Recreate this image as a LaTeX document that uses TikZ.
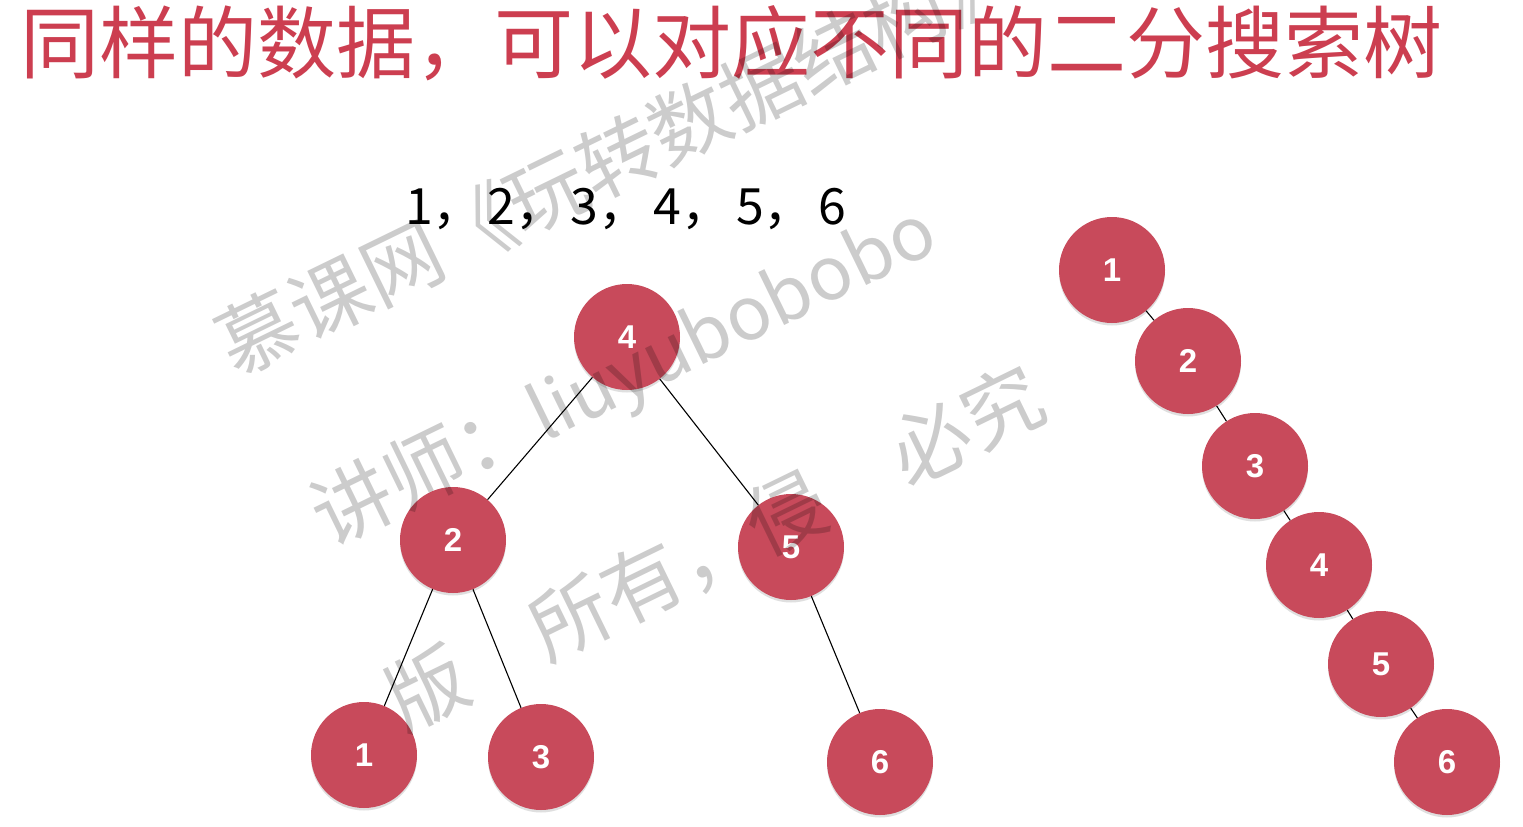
\documentclass[tikz,border=0pt]{standalone}
\usepackage{fontspec}
\setmainfont{Liberation Sans}
\newfontfamily\cjk{Noto Sans CJK SC}
\usetikzlibrary{shadows}
\definecolor{nodered}{RGB}{200,74,91}
\definecolor{titlered}{RGB}{204,62,80}
\begin{document}
\begin{tikzpicture}[x=1pt,y=-1pt,
  bst/.style={circle, fill=nodered, minimum size=106pt, inner sep=0pt, text=white,
    font=\fontsize{33}{33}\selectfont\bfseries,
    drop shadow={shadow xshift=0pt, shadow yshift=-2.5pt, opacity=0.25}},
  link/.style={draw=black, line width=1.1pt},
  wm/.style={text=black, text opacity=0.2, font=\cjk\fontsize{80}{80}\selectfont,
    rotate=26, anchor=west, inner sep=0pt}]
\useasboundingbox[fill=white] (0,0) rectangle (1523,827);

% title
\node[anchor=base west, inner sep=0pt, text=titlered, font=\cjk\fontsize{79}{79}\selectfont]
  (title) at (20,72) {同样的数据，可以对应不同的二分搜索树};

% sequence
\node[anchor=base west, inner sep=0pt, font=\cjk\fontsize{50}{50}\selectfont]
  (seq) at (405,224) {1，\hspace{5pt}2，\hspace{5pt}3，\hspace{5pt}4，\hspace{5pt}5，\hspace{5pt}6};

% balanced tree
\node[bst] (a4) at (627,337) {4};
\node[bst] (a2) at (453,540) {2};
\node[bst] (a5) at (791,547) {5};
\node[bst] (a1) at (364,755) {1};
\node[bst] (a3) at (541,757) {3};
\node[bst] (a6) at (880,762) {6};
\draw[link] (a4) -- (a2);
\draw[link] (a4) -- (a5);
\draw[link] (a2) -- (a1);
\draw[link] (a2) -- (a3);
\draw[link] (a5) -- (a6);

% degenerate tree
\node[bst] (b1) at (1112,270) {1};
\node[bst] (b2) at (1188,361) {2};
\node[bst] (b3) at (1255,466) {3};
\node[bst] (b4) at (1319,565) {4};
\node[bst] (b5) at (1381,664) {5};
\node[bst] (b6) at (1447,762) {6};
\draw[link] (b1) -- (b2);
\draw[link] (b2) -- (b3);
\draw[link] (b3) -- (b4);
\draw[link] (b4) -- (b5);
\draw[link] (b5) -- (b6);

% watermark
\node[wm] (wm1) at (222,350) {慕课网《玩转数据结构》};
\node[wm] (wm2) at (318,525) {讲师：{\fontsize{74}{74}\selectfont liuyubobobo}};
\node[wm] (wm3) at (391,706) {版\phantom{权}所有，侵\phantom{权}必究};
\end{tikzpicture}
\end{document}
